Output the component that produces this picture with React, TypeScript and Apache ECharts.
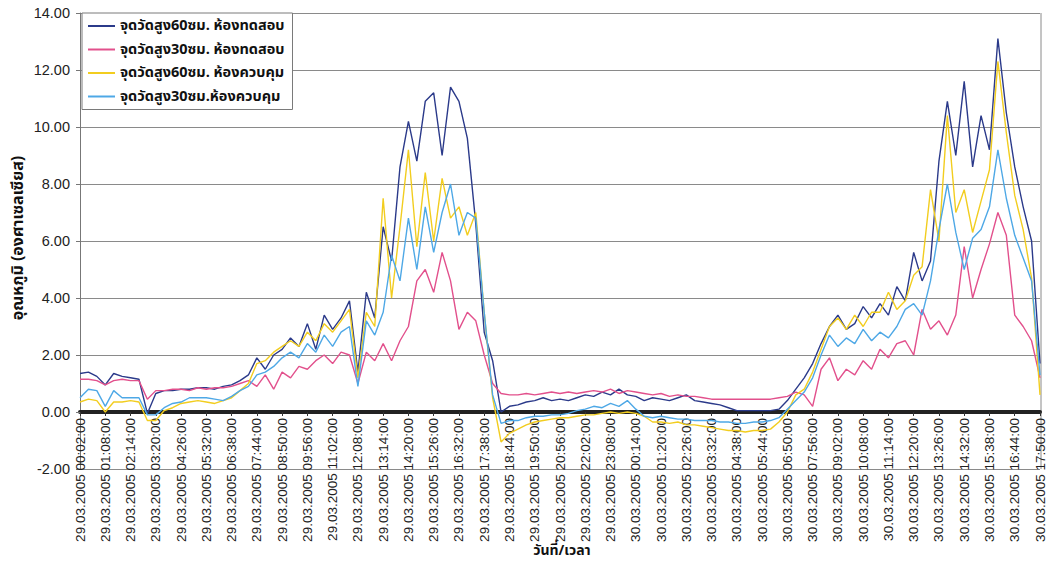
import React, { useEffect, useRef } from "react";
import * as echarts from "echarts";

// ---- data (22-minute steps from 29.03.2005 00:02:00 to 30.03.2005 17:50:00) ----
const START_LABEL = "29.03.2005 00:02:00";
const STEP_MINUTES = 22;
const POINT_COUNT = 115;

const seriesNames = [
  "จุดวัดสูง60ซม. ห้องทดสอบ",
  "จุดวัดสูง30ซม. ห้องทดสอบ",
  "จุดวัดสูง60ซม. ห้องควบคุม",
  "จุดวัดสูง30ซม.ห้องควบคุม",
];

const test60 = [
  1.35, 1.4, 1.25, 0.95, 1.35, 1.25, 1.2, 1.15, -0.05, 0.65,
  0.75, 0.75, 0.8, 0.8, 0.85, 0.85, 0.8, 0.9, 0.95, 1.1,
  1.3, 1.9, 1.5, 2.0, 2.2, 2.6, 2.3, 3.1, 2.2, 3.4,
  2.9, 3.3, 3.9, 1.4, 4.2, 3.3, 6.5, 5.3, 8.6, 10.2,
  8.8, 10.9, 11.2, 9.0, 11.4, 10.9, 9.6, 6.6, 2.8, 1.8,
  0.0, 0.2, 0.25, 0.35, 0.4, 0.5, 0.4, 0.45, 0.4, 0.5,
  0.6, 0.55, 0.7, 0.6, 0.8, 0.6, 0.55, 0.4, 0.5, 0.45,
  0.4, 0.5, 0.6, 0.4, 0.35, 0.3, 0.25, 0.15, 0.05, 0.05,
  0.05, 0.05, 0.05, 0.1, 0.4, 0.8, 1.2, 1.7, 2.4, 3.0,
  3.4, 2.9, 3.1, 3.7, 3.3, 3.8, 3.4, 4.4, 3.9, 5.6,
  4.6, 5.3, 8.8, 10.9, 9.0, 11.6, 8.6, 10.4, 9.2, 13.1,
  10.5, 8.6, 7.2, 6.0, 1.7,
];

const test30 = [
  1.15, 1.15, 1.1, 0.95, 1.1, 1.15, 1.1, 1.1, 0.45, 0.75,
  0.75, 0.8, 0.8, 0.75, 0.85, 0.8, 0.85, 0.85, 0.9, 1.0,
  1.1, 0.9, 1.3, 0.8, 1.4, 1.2, 1.6, 1.5, 1.8, 2.0,
  1.7, 2.1, 2.0, 1.0, 2.1, 1.8, 2.4, 1.8, 2.5, 3.0,
  4.6, 5.0, 4.2, 5.6, 4.6, 2.9, 3.5, 3.2, 2.0, 1.0,
  0.65, 0.6, 0.6, 0.65, 0.6, 0.65, 0.7, 0.65, 0.7, 0.65,
  0.7, 0.75, 0.7, 0.8, 0.65, 0.75, 0.7, 0.65, 0.6, 0.65,
  0.55, 0.6, 0.55, 0.55, 0.5, 0.45, 0.45, 0.45, 0.45, 0.45,
  0.45, 0.45, 0.45, 0.5, 0.55, 0.7, 0.6, 0.2, 1.5, 1.9,
  1.1, 1.5, 1.3, 1.8, 1.5, 2.2, 1.9, 2.4, 2.5, 2.0,
  3.6, 2.9, 3.2, 2.7, 3.4, 5.8, 4.0, 5.0, 5.9, 7.0,
  6.2, 3.4, 3.0, 2.5, 1.2,
];

const control60 = [
  0.35, 0.45, 0.4, 0.0, 0.35, 0.35, 0.4, 0.35, -0.3, -0.3,
  0.05, 0.15, 0.3, 0.35, 0.4, 0.35, 0.3, 0.4, 0.5, 0.75,
  1.0, 1.7, 1.8, 2.1, 2.3, 2.5, 2.3, 2.8, 2.5, 3.1,
  2.8, 3.2, 3.6, 1.2, 3.5, 3.0, 7.5, 4.0, 6.5, 9.2,
  5.8, 8.4, 6.0, 8.2, 6.8, 7.2, 6.2, 7.0, 3.5, 0.5,
  -1.05, -0.75, -0.6, -0.45, -0.35, -0.3, -0.25, -0.2, -0.2, -0.15,
  -0.1, -0.1, -0.05, 0.0, -0.05, 0.0, -0.05, -0.15, -0.35, -0.35,
  -0.4, -0.35, -0.45, -0.45, -0.5, -0.55, -0.6, -0.65, -0.65, -0.7,
  -0.65, -0.65, -0.6, -0.35, 0.0, 0.6, 0.8, 1.4, 2.2, 3.0,
  3.3, 2.9, 3.4, 3.0, 3.5, 3.5, 4.2, 3.6, 3.9, 4.8,
  5.1, 7.8, 6.0, 10.4, 7.0, 7.8, 6.3, 7.4, 8.5, 12.3,
  9.8, 7.6, 6.4, 4.7, 0.6,
];

const control30 = [
  0.5, 0.8, 0.75, 0.2, 0.75, 0.5, 0.5, 0.5, -0.1, -0.1,
  0.15, 0.3, 0.35, 0.5, 0.5, 0.5, 0.45, 0.4, 0.55, 0.75,
  0.9, 1.3, 1.4, 1.6, 1.9, 2.1, 1.9, 2.4, 2.1, 2.7,
  2.3, 2.8, 3.0, 0.9, 3.2, 2.7, 3.5, 5.5, 4.6, 6.8,
  5.0, 7.2, 5.6, 7.0, 8.0, 6.2, 7.0, 6.8, 3.5, 0.6,
  -0.4, -0.3, -0.3, -0.2, -0.15, -0.15, -0.1, -0.1, -0.05, 0.05,
  0.1, 0.2, 0.15, 0.3, 0.2, 0.4, 0.1, -0.15, -0.2, -0.15,
  -0.2, -0.25, -0.25, -0.3, -0.3, -0.3, -0.35, -0.35, -0.4, -0.4,
  -0.35, -0.35, -0.3, -0.2, 0.1, 0.4, 0.7, 1.2, 2.0, 2.7,
  2.3, 2.6, 2.4, 2.9, 2.5, 2.8, 2.6, 3.0, 3.6, 3.8,
  3.4, 4.6, 6.4, 8.0, 6.3, 5.0, 6.1, 6.4, 7.2, 9.2,
  7.5, 6.2, 5.4, 4.6, 1.3,
];

const seriesColors = ["#2b3a8a", "#e2508c", "#f2cd1f", "#4ea8e6"];

const Y_MIN = -2;
const Y_MAX = 14;
const Y_STEP = 2;

const yTitle = "อุณหภูมิ (องศาเซลเซียส)";
const xTitle = "วันที่/เวลา";

// build the category labels (timestamps)
function buildCategories(): string[] {
  const [d, t] = START_LABEL.split(" ");
  const [dd, mm, yyyy] = d.split(".").map(Number);
  const [hh, mi] = t.split(":").map(Number);
  const base = Date.UTC(yyyy, mm - 1, dd, hh, mi, 0);
  const out: string[] = [];
  const p = (n: number) => String(n).padStart(2, "0");
  for (let i = 0; i < POINT_COUNT; i++) {
    const dt = new Date(base + i * STEP_MINUTES * 60000);
    out.push(
      `${p(dt.getUTCDate())}.${p(dt.getUTCMonth() + 1)}.${dt.getUTCFullYear()} ${p(
        dt.getUTCHours()
      )}:${p(dt.getUTCMinutes())}:00`
    );
  }
  return out;
}

const categories = buildCategories();
const seriesData = [test60, test30, control60, control30];

const LATIN = "Liberation Sans, Arial, sans-serif";
const THAI = '"Noto Sans Thai", "Tlwg Typo", Loma, Garuda, "DejaVu Sans", sans-serif';

const GRID_TOP = 13;
const GRID_BOTTOM = 95;
const CHART_H = 564;

export default function App() {
  const ref = useRef<HTMLDivElement>(null);
  useEffect(() => {
    if (!ref.current) return;
    const chart = echarts.init(ref.current, undefined, { renderer: "svg" });
    const gridH = CHART_H - GRID_TOP - GRID_BOTTOM;
    // move the category axis (line + labels) up to the value 0
    const zeroOffset = -(gridH * (0 - Y_MIN)) / (Y_MAX - Y_MIN);
    chart.setOption({
      animation: false,
      backgroundColor: "#ffffff",
      grid: {
        left: 80,
        right: 10,
        top: GRID_TOP,
        bottom: GRID_BOTTOM,
        containLabel: false,
        outerBoundsMode: "none",
      },
      legend: {
        orient: "vertical",
        left: 82,
        top: 13,
        icon: "rect",
        itemWidth: 27,
        itemHeight: 2,
        itemGap: 7.5,
        padding: [5, 8, 5, 6],
        backgroundColor: "#ffffff",
        borderColor: "#7a7a7a",
        borderWidth: 1,
        textStyle: {
          fontSize: 14.5,
          fontWeight: "bold",
          color: "#111",
          fontFamily: THAI,
          lineHeight: 16,
        },
        data: seriesNames,
      },
      xAxis: {
        type: "category",
        data: categories,
        boundaryGap: false,
        position: "bottom",
        offset: zeroOffset,
        axisLine: { onZero: false, lineStyle: { color: "#222", width: 4 } },
        axisTick: { show: true, interval: 2, length: 4, lineStyle: { color: "#333" } },
        axisLabel: {
          interval: 2,
          rotate: 90,
          fontSize: 13.5,
          color: "#222",
          fontFamily: LATIN,
          margin: 6,
        },
        splitLine: { show: false },
      },
      yAxis: {
        type: "value",
        min: Y_MIN,
        max: Y_MAX,
        interval: Y_STEP,
        axisLine: { show: true, lineStyle: { color: "#777", width: 1 } },
        axisTick: { show: true, length: 4, lineStyle: { color: "#777" } },
        axisLabel: {
          fontSize: 14.5,
          color: "#222",
          fontFamily: LATIN,
          margin: 10,
          formatter: (v: number) => v.toFixed(2),
        },
        splitLine: { show: true, lineStyle: { color: "#8a8a8a", width: 1 } },
      },
      graphic: [
        {
          type: "line",
          shape: { x1: 1041, y1: GRID_TOP, x2: 1041, y2: CHART_H - GRID_BOTTOM },
          style: { stroke: "#8a8a8a", lineWidth: 1 },
          silent: true,
        },
        {
          type: "text",
          x: 18,
          y: 238,
          rotation: Math.PI / 2,
          style: {
            text: yTitle,
            fontSize: 16,
            fontWeight: "bold",
            fontFamily: THAI,
            fill: "#111",
            align: "center",
            verticalAlign: "middle",
          },
        },
        {
          type: "text",
          x: 562,
          y: 550,
          style: {
            text: xTitle,
            fontSize: 14,
            fontWeight: "bold",
            fontFamily: THAI,
            fill: "#111",
            align: "center",
            verticalAlign: "middle",
          },
        },
      ],
      series: seriesNames.map((name, k) => ({
        name,
        type: "line",
        data: seriesData[k],
        symbol: "none",
        showSymbol: false,
        color: seriesColors[k],
        lineStyle: { width: 1.4, color: seriesColors[k] },
        z: 2 + k,
      })),
    });
    return () => chart.dispose();
  }, []);
  return (
    <div
      ref={ref}
      style={{ position: "fixed", left: 0, top: 0, width: 1050, height: 564, background: "#fff" }}
    />
  );
}
